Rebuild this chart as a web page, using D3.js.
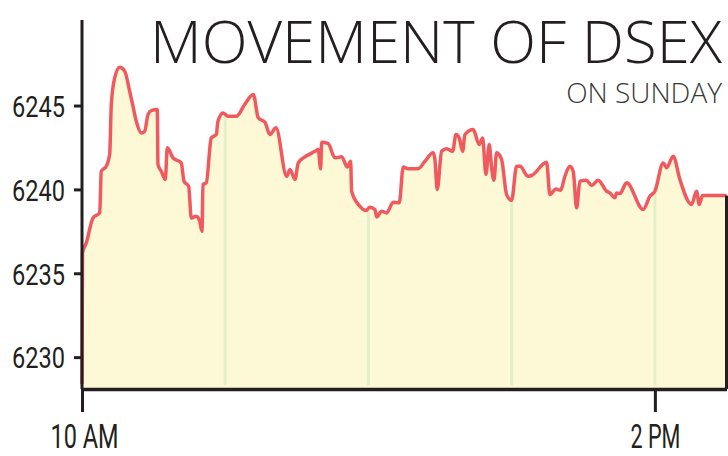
<!DOCTYPE html>
<html>
<head>
<meta charset="utf-8">
<script src="https://cdn.jsdelivr.net/npm/d3@7"></script>
<style>
  body { margin: 0; background: #fff; }
  svg { display: block; }
  .lbl { font-family: Roboto, "Liberation Sans", sans-serif; fill: #231f20; }
</style>
</head>
<body>
<div id="chart"></div>
<script>
// DSEX index on Sunday, minutes after 10:00 and index value
const minutesAfterOpen = [
  0, 0.2, 1.8, 4.61, 7.41, 8.08, 10.18, 11.6, 12.27, 13.7, 15.79, 17.88, 19.98, 21.36, 22.74,
  24.84, 26.26, 27.64, 29.03, 31.54, 31.83, 33.21, 34.89, 35.73, 38.12, 41.59, 42.72, 44.69,
  45.78, 47.87, 49.3, 50.26, 50.68, 52.06, 54.16, 56.25, 56.96, 59.06, 61.15, 64.63, 68.15,
  71.75, 73.84, 76.65, 78.74, 81.26, 85.74, 87.12, 89.22, 90.6, 93.4, 97.59, 98.97, 99.98,
  100.4, 103.16, 105.97, 108.78, 111.12, 112.54, 112.96, 116.44, 118.95, 120.63, 122.72,
  123.44, 125.53, 127.62, 130.39, 132.9, 134.58, 136.67, 140.86, 143.67, 147.14, 147.85,
  148.82, 150.66, 152.75, 155.27, 156.65, 158.03, 159.46, 160.42, 163.89, 166.41, 167.83,
  169.22, 170.6, 171.6, 172.57, 173.7, 175.79, 177.89, 179.98, 182.07, 183.46, 186.93,
  188.36, 194.64, 196.02, 198.53, 200.5, 202.3, 204.4, 205.78, 207.2, 208.59, 211.39,
  213.49, 216.25, 219.77, 221.15, 223.25, 223.96, 225.34, 228.15, 235.1, 237.91, 240,
  243.48, 244.9, 247.67, 250.47, 255.37, 257.46, 258.56, 259.98, 270
];
const dsexValues = [
  6228.4, 6236.23, 6236.81, 6238.3, 6238.6, 6241.08, 6241.38, 6242.08, 6245.06, 6246.65, 6247.28, 6247.05, 6245.85, 6244.96, 6244.06,
  6243.37, 6243.47, 6244.46, 6244.7, 6244.76, 6241.48, 6241.08, 6240.59, 6242.48, 6241.88, 6241.58, 6240.49, 6240.19,
  6238.3, 6238.4, 6238.1, 6237.5, 6240.29, 6240.39, 6243.07, 6243.27, 6244.06, 6244.56, 6244.36, 6244.36, 6245.06,
  6245.66, 6244.27, 6244.0, 6243.27, 6243.67, 6240.78, 6241.18, 6240.59, 6241.58, 6241.94, 6242.27, 6242.38, 6241.23,
  6242.81, 6242.73, 6241.88, 6241.94, 6241.34, 6241.68, 6239.89, 6238.99, 6238.74, 6238.94, 6238.8,
  6238.36, 6238.7, 6238.6, 6239.23, 6239.2, 6241.34, 6241.23, 6241.23, 6241.68, 6242.18, 6241.78,
  6239.99, 6242.27, 6242.42, 6242.27, 6243.27, 6243.07, 6242.27, 6243.27, 6243.57, 6242.67, 6243.07,
  6240.89, 6242.67, 6241.29, 6240.55, 6242.18, 6241.78, 6239.69, 6239.35, 6241.38, 6241.38, 6240.78,
  6240.83, 6241.62, 6239.69, 6240.03, 6239.95, 6240.78, 6241.38, 6241.08, 6238.9, 6240.49, 6240.55,
  6240.23, 6240.55, 6239.89, 6239.79, 6239.5, 6239.79, 6239.75, 6240.39, 6238.8, 6239.59, 6239.89,
  6241.58, 6241.29, 6241.98, 6240.59, 6239.1, 6239.89, 6239.1, 6239.63, 6239.63
];
const yTicks = [6230, 6235, 6240, 6245];
const xTickLabels = ["10 AM", "2 PM"];
const gridHours = [11, 12, 13, 14];

const W = 728, H = 456;
const open = new Date(2015, 0, 4, 10, 0);
const at = (m) => new Date(open.getTime() + m * 60000);
const data = minutesAfterOpen.map((m, i) => ({ t: at(m), v: dsexValues[i] }));

const x = d3.scaleTime()
    .domain([at(0), at(270)])
    .range([82, 726.5]);
const y = d3.scaleLinear()
    .domain([6228.1, 6250.1])
    .range([389, 20]);

const svg = d3.select("#chart").append("svg")
    .attr("width", W)
    .attr("height", H);

const area = d3.area()
    .x(d => x(d.t))
    .y0(y(6228.1))
    .y1(d => y(d.v))
    .curve(d3.curveMonotoneX);

const line = d3.line()
    .x(d => x(d.t))
    .y(d => y(d.v))
    .curve(d3.curveMonotoneX);

svg.append("clipPath").attr("id", "under")
  .append("path").datum(data).attr("d", area);

svg.append("path")
    .datum(data)
    .attr("d", area)
    .attr("fill", "#fdf9d7")
    .attr("stroke", "#e8a0a0")
    .attr("stroke-width", 1);

// hourly gridlines, only inside the filled area
svg.append("g")
    .attr("clip-path", "url(#under)")
  .selectAll("line")
  .data(gridHours)
  .enter().append("line")
    .attr("x1", h => x(at((h - 10) * 60)))
    .attr("x2", h => x(at((h - 10) * 60)))
    .attr("y1", y(6250))
    .attr("y2", y(6228.2) - 2)
    .attr("stroke", "#e3efc8")
    .attr("stroke-width", 3);

svg.append("path")
    .datum(data)
    .attr("d", line)
    .attr("fill", "none")
    .attr("stroke", "#f05a5f")
    .attr("stroke-width", 3.5)
    .attr("stroke-linejoin", "round");

// right edge closing the area
const last = data[data.length - 1];
svg.append("line")
    .attr("x1", x(last.t)).attr("x2", x(last.t))
    .attr("y1", y(last.v)).attr("y2", y(6228.1))
    .attr("stroke", "#231f20")
    .attr("stroke-width", 3);

// y axis
const yAxis = svg.append("g")
    .attr("transform", "translate(" + x(at(0)) + ",0)")
    .call(d3.axisLeft(y).tickValues(yTicks).tickSize(8).tickPadding(9).tickSizeOuter(0).tickFormat(d3.format("d")));
yAxis.select(".domain").attr("stroke", "#231f20").attr("stroke-width", 3)
    .attr("d", "M0," + y(6250.1) + "V" + y(6228.1));
yAxis.selectAll(".tick line").attr("stroke", "#231f20").attr("stroke-width", 3);
yAxis.selectAll(".tick text").attr("class", "lbl").attr("font-size", 30).attr("dy", "0.36em")
    .attr("textLength", 53).attr("lengthAdjust", "spacingAndGlyphs");

// x axis
const xAxis = svg.append("g")
    .attr("transform", "translate(0," + y(6228.1) + ")")
    .call(d3.axisBottom(x).tickValues([at(0), at(240)]).tickSize(23).tickSizeOuter(0)
      .tickFormat((d, i) => xTickLabels[i]));
xAxis.select(".domain").attr("stroke", "#231f20").attr("stroke-width", 3.5);
xAxis.selectAll(".tick line").attr("stroke", "#231f20").attr("stroke-width", 3);
xAxis.selectAll(".tick text").attr("class", "lbl").attr("font-size", 33)
    .attr("y", 59).attr("dy", 0).attr("dx", (d, i) => i === 0 ? 2 : 0)
    .attr("textLength", (d, i) => i === 0 ? 68 : 50).attr("lengthAdjust", "spacingAndGlyphs");

// titles
svg.append("text")
    .attr("x", 722).attr("y", 63)
    .attr("text-anchor", "end")
    .attr("font-family", "'Open Sans', Lato, sans-serif")
    .attr("font-weight", 300)
    .attr("font-size", 59)
    .attr("fill", "#231f20")
    .attr("textLength", 572).attr("lengthAdjust", "spacingAndGlyphs")
    .text("MOVEMENT OF DSEX");

svg.append("text")
    .attr("x", 722).attr("y", 103)
    .attr("text-anchor", "end")
    .attr("font-family", "'Open Sans', Lato, sans-serif")
    .attr("font-weight", 300)
    .attr("font-size", 28)
    .attr("fill", "#3a3a3a")
    .text("ON SUNDAY");
</script>
</body>
</html>
